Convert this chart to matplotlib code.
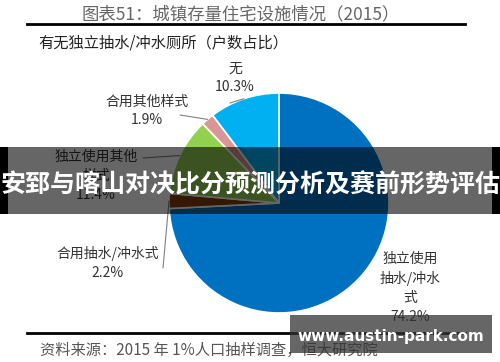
import numpy as np
import matplotlib
matplotlib.use("Agg")
import matplotlib.pyplot as plt
from matplotlib.patches import Rectangle
from matplotlib.lines import Line2D

plt.rcParams['font.family'] = ['Noto Sans CJK SC', 'DejaVu Sans']

# data (clockwise from 12 o'clock)
categories = ['独立使用\n抽水/冲水\n式', '合用抽水/冲水式', '独立使用其他\n样式', '合用其他样式', '无']
shares = [74.2, 2.2, 11.4, 1.9, 10.3]
colors = ['#0070C0', '#843C0C', '#92D050', '#DA9694', '#00B0F0']

W, H = 500, 362
fig = plt.figure(figsize=(5, 3.62), dpi=100)


def fx(x, y):
    return x / W, 1 - y / H


# pie axes: centre (279, 203) px, radius 110 px
R, L = 110, 1.05
cx, cy = 279, 203
half = R * L
ax = fig.add_axes([(cx - half) / W, (H - cy - half) / H, 2 * half / W, 2 * half / H])
wedges, _ = ax.pie(shares, colors=colors, startangle=90, counterclock=False,
                   wedgeprops=dict(edgecolor='white', linewidth=1.2))
ax.set_xlim(-L, L)
ax.set_ylim(-L, L)
ax.axis('off')

# labels: (centre px, leader start px or None)
label_pos = [(410, 288), (108, 263), (96, 176), (147, 111), (235, 78)]
leader_start = [None, (163, 268), (143, 158), (180, 115), (230, 103)]

for w, cat, val, (lx, ly), ls in zip(wedges, categories, shares, label_pos, leader_start):
    fig.text(*fx(lx, ly), f'{cat}\n{val:.1f}%', ha='center', va='center',
             fontsize=10, color='#333333', linespacing=1.45)
    if ls is not None:
        th = np.deg2rad((w.theta1 + w.theta2) / 2)
        ax.annotate('', xy=(np.cos(th), np.sin(th)), xycoords='data',
                    xytext=(ls[0], H - ls[1]), textcoords='figure pixels',
                    arrowprops=dict(arrowstyle='-', color='#808080', lw=0.8,
                                    shrinkA=0, shrinkB=0),
                    annotation_clip=False)

# title, subtitle, rules, source
fig.text(*fx(241, 14), '图表51：城镇存量住宅设施情况（2015）', ha='center', va='center',
         fontsize=12.5, color='#666666')
fig.add_artist(Line2D([27 / W, 465 / W], [1 - 24 / H, 1 - 24 / H], color='black', lw=2))
fig.text(*fx(38, 43), '有无独立抽水/冲水厕所（户数占比）', ha='left', va='center',
         fontsize=11, color='#222222')
fig.add_artist(Line2D([27 / W, 465 / W], [1 - 333 / H, 1 - 333 / H], color='black', lw=2))
fig.text(*fx(40, 350), '资料来源：2015 年 1%人口抽样调查，恒大研究院', ha='left', va='center',
         fontsize=11, color='#555555', style='italic')

# overlay banner
fig.add_artist(Rectangle((0, 1 - 214 / H), 1, 67 / H, transform=fig.transFigure,
                         facecolor='black', alpha=0.6, edgecolor='none', zorder=10))
fig.add_artist(Rectangle((0, 1 - 214 / H), 8 / W, 67 / H, transform=fig.transFigure,
                         facecolor='black', edgecolor='none', zorder=10))
fig.add_artist(Rectangle((492 / W, 1 - 214 / H), 8 / W, 67 / H, transform=fig.transFigure,
                         facecolor='black', edgecolor='none', zorder=10))
fig.text(*fx(250, 185), '安郅与喀山对决比分预测分析及赛前形势评估', ha='center', va='center',
         fontsize=18, fontweight='bold', color='white', zorder=11)

# watermark box
fig.add_artist(Rectangle((290 / W, 1 - 353 / H), 202 / W, 38 / H, transform=fig.transFigure,
                         facecolor='#333333', alpha=0.75, edgecolor='none', zorder=10))
fig.text(*fx(391, 336), 'www.austin-park.com', ha='center', va='center',
         fontsize=11, fontweight='bold', color='white', family='DejaVu Sans', zorder=11)

fig.savefig('out.png', dpi=100)
